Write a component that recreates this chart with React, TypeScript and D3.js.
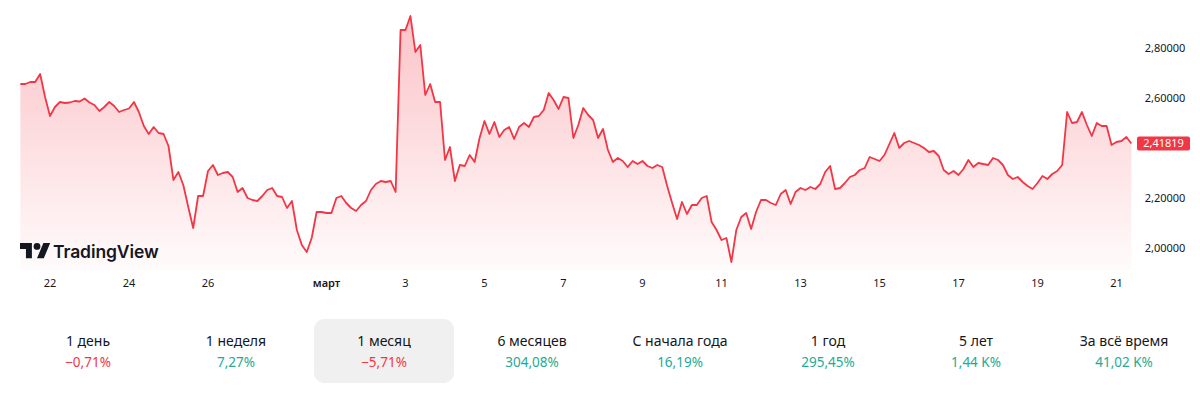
import React, { useEffect, useRef } from "react";
import * as d3 from "d3";

// 3-hour closes, first one Feb 21 06:00 UTC
const startTime = Date.UTC(2025, 1, 21, 6);
const stepHours = 3;

const prices = [
  2.656, 2.656, 2.664, 2.664, 2.696, 2.604, 2.528, 2.564, 2.584, 2.58,
  2.582, 2.588, 2.586, 2.598, 2.582, 2.572, 2.548, 2.564, 2.584, 2.568,
  2.544, 2.552, 2.558, 2.584, 2.544, 2.488, 2.456, 2.484, 2.46, 2.456,
  2.408, 2.272, 2.304, 2.252, 2.164, 2.08, 2.208, 2.208, 2.308, 2.332,
  2.292, 2.3, 2.304, 2.284, 2.224, 2.24, 2.2, 2.192, 2.188, 2.208,
  2.232, 2.24, 2.208, 2.204, 2.16, 2.188, 2.072, 2.012, 1.984, 2.04,
  2.144, 2.144, 2.14, 2.14, 2.2, 2.208, 2.18, 2.16, 2.148, 2.172,
  2.188, 2.232, 2.256, 2.268, 2.264, 2.268, 2.224, 2.872, 2.872, 2.928,
  2.784, 2.812, 2.612, 2.656, 2.584, 2.584, 2.352, 2.404, 2.268, 2.332,
  2.328, 2.372, 2.344, 2.44, 2.508, 2.456, 2.504, 2.444, 2.472, 2.484,
  2.436, 2.484, 2.5, 2.484, 2.524, 2.528, 2.552, 2.62, 2.592, 2.556,
  2.604, 2.6, 2.44, 2.492, 2.56, 2.532, 2.512, 2.44, 2.476, 2.392,
  2.344, 2.36, 2.348, 2.324, 2.348, 2.336, 2.348, 2.328, 2.32, 2.332,
  2.324, 2.248, 2.18, 2.116, 2.184, 2.136, 2.172, 2.172, 2.2, 2.208,
  2.104, 2.072, 2.032, 2.04, 1.944, 2.072, 2.124, 2.14, 2.076, 2.144,
  2.192, 2.192, 2.18, 2.172, 2.216, 2.232, 2.176, 2.224, 2.24, 2.232,
  2.244, 2.236, 2.256, 2.304, 2.328, 2.236, 2.24, 2.26, 2.284, 2.292,
  2.312, 2.32, 2.364, 2.356, 2.348, 2.372, 2.416, 2.46, 2.4, 2.42,
  2.428, 2.42, 2.412, 2.4, 2.384, 2.388, 2.368, 2.312, 2.296, 2.308,
  2.292, 2.316, 2.352, 2.324, 2.34, 2.336, 2.332, 2.36, 2.352, 2.332,
  2.292, 2.276, 2.284, 2.264, 2.248, 2.236, 2.26, 2.288, 2.276, 2.296,
  2.308, 2.332, 2.544, 2.5, 2.504, 2.544, 2.492, 2.448, 2.5, 2.488,
  2.488, 2.412, 2.424, 2.428, 2.444, 2.41819,
];
const lastPriceText = "2,41819";

const xTickDates = [
  "2025-02-22", "2025-02-24", "2025-02-26", "2025-03-01", "2025-03-03",
  "2025-03-05", "2025-03-07", "2025-03-09", "2025-03-11", "2025-03-13",
  "2025-03-15", "2025-03-17", "2025-03-19", "2025-03-21",
];
const xTickLabels = ["22", "24", "26", "март", "3", "5", "7", "9", "11", "13", "15", "17", "19", "21"];
const yTicks = [2.0, 2.2, 2.6, 2.8];

const periodLabels = ["1 день", "1 неделя", "1 месяц", "6 месяцев", "С начала года", "1 год", "5 лет", "За всё время"];
const periodChanges = ["−0,71%", "7,27%", "−5,71%", "304,08%", "16,19%", "295,45%", "1,44 K%", "41,02 K%"];
const selectedPeriod = "1 месяц";

const RED = "#f23645";
const GREEN = "#22ab94";
const TEXT = "#131722";
const FONT = "'Noto Sans', sans-serif";

const App = () => {
  const ref = useRef<SVGSVGElement>(null);

  useEffect(() => {
    const width = 1200;
    const height = 397;
    const plotBottom = 270;

    const svg = d3.select(ref.current).attr("width", width).attr("height", height);
    svg.selectAll("*").remove();

    const data = prices.map((v, i) => ({ t: new Date(startTime + i * stepHours * 3600e3), v }));

    const x = d3.scaleUtc()
      .domain([new Date(Date.UTC(2025, 1, 22)), new Date(Date.UTC(2025, 2, 21))])
      .range([50, 1116.5]);
    const y = d3.scaleLinear().domain([1.912, 2.992]).range([plotBottom, 0]);

    // gradient under the line
    const grad = svg.append("defs").append("linearGradient")
      .attr("id", "areaFill")
      .attr("gradientUnits", "userSpaceOnUse")
      .attr("x1", 0).attr("x2", 0)
      .attr("y1", y(d3.max(prices)!)).attr("y2", plotBottom);
    grad.append("stop").attr("offset", 0).attr("stop-color", RED).attr("stop-opacity", 0.3);
    grad.append("stop").attr("offset", 1).attr("stop-color", RED).attr("stop-opacity", 0.02);

    const area = d3.area<{ t: Date; v: number }>()
      .x(d => x(d.t)).y0(plotBottom).y1(d => y(d.v));
    const line = d3.line<{ t: Date; v: number }>()
      .x(d => x(d.t)).y(d => y(d.v));

    svg.append("path").datum(data).attr("d", area).attr("fill", "url(#areaFill)");
    svg.append("path").datum(data).attr("d", line)
      .attr("fill", "none").attr("stroke", RED).attr("stroke-width", 1.8)
      .attr("stroke-linejoin", "round");

    // x axis labels
    svg.append("g").selectAll("text")
      .data(xTickDates)
      .enter().append("text")
      .attr("x", d => x(new Date(d + "T00:00:00Z")))
      .attr("y", 287)
      .attr("text-anchor", "middle")
      .attr("font-family", FONT)
      .attr("font-size", 11)
      .attr("font-weight", (_, i) => (xTickLabels[i] === "март" ? 600 : 400))
      .attr("fill", TEXT)
      .text((_, i) => xTickLabels[i]);

    // y axis labels
    svg.append("g").selectAll("text")
      .data(yTicks)
      .enter().append("text")
      .attr("x", 1165)
      .attr("y", d => y(d))
      .attr("dy", "0.35em")
      .attr("text-anchor", "middle")
      .attr("font-family", FONT)
      .attr("font-size", 11)
      .attr("fill", TEXT)
      .text(d => d3.format(".5f")(d).replace(".", ","));

    // last price tag
    const last = prices[prices.length - 1];
    svg.append("rect")
      .attr("x", 1137).attr("y", y(last) - 7)
      .attr("width", 53).attr("height", 14).attr("rx", 2)
      .attr("fill", RED);
    svg.append("text")
      .attr("x", 1163.5).attr("y", y(last)).attr("dy", "0.35em")
      .attr("text-anchor", "middle")
      .attr("font-family", FONT).attr("font-size", 11)
      .attr("fill", "#fff")
      .text(lastPriceText);

    // TradingView watermark
    const logo = svg.append("g").attr("fill", TEXT);
    logo.append("g")
      .attr("transform", "translate(20,239.6) scale(0.85)")
      .call(g => {
        g.append("path").attr("d", "M14 22H7V11H0V4h14v18zM28 22h-8l7.5-18h8L28 22z");
        g.append("circle").attr("cx", 20).attr("cy", 8).attr("r", 4);
      });
    logo.append("text")
      .attr("x", 53).attr("y", 258)
      .attr("font-family", "Inter, sans-serif")
      .attr("font-size", 17.5)
      .attr("font-weight", 600)
      .attr("letter-spacing", -0.1)
      .text("TradingView");

    // period performance row
    const colW = 148;
    const cols = svg.append("g").selectAll("g")
      .data(periodLabels)
      .enter().append("g")
      .attr("transform", (_, i) => `translate(${88 + i * colW},0)`);

    cols.filter(d => d === selectedPeriod)
      .append("rect")
      .attr("x", -70).attr("y", 319)
      .attr("width", 140).attr("height", 64).attr("rx", 10)
      .attr("fill", "#f0f0f0");

    cols.append("text")
      .attr("y", 346)
      .attr("text-anchor", "middle")
      .attr("font-family", FONT).attr("font-size", 14)
      .attr("fill", TEXT)
      .text(d => d);

    cols.append("text")
      .attr("y", 367)
      .attr("text-anchor", "middle")
      .attr("font-family", FONT).attr("font-size", 13.5)
      .attr("fill", (_, i) => (periodChanges[i].startsWith("−") ? RED : GREEN))
      .text((_, i) => periodChanges[i]);
  }, []);

  return (
    <svg ref={ref} style={{ position: "absolute", left: 0, top: 0, background: "#fff" }}></svg>
  );
};

export default App;
